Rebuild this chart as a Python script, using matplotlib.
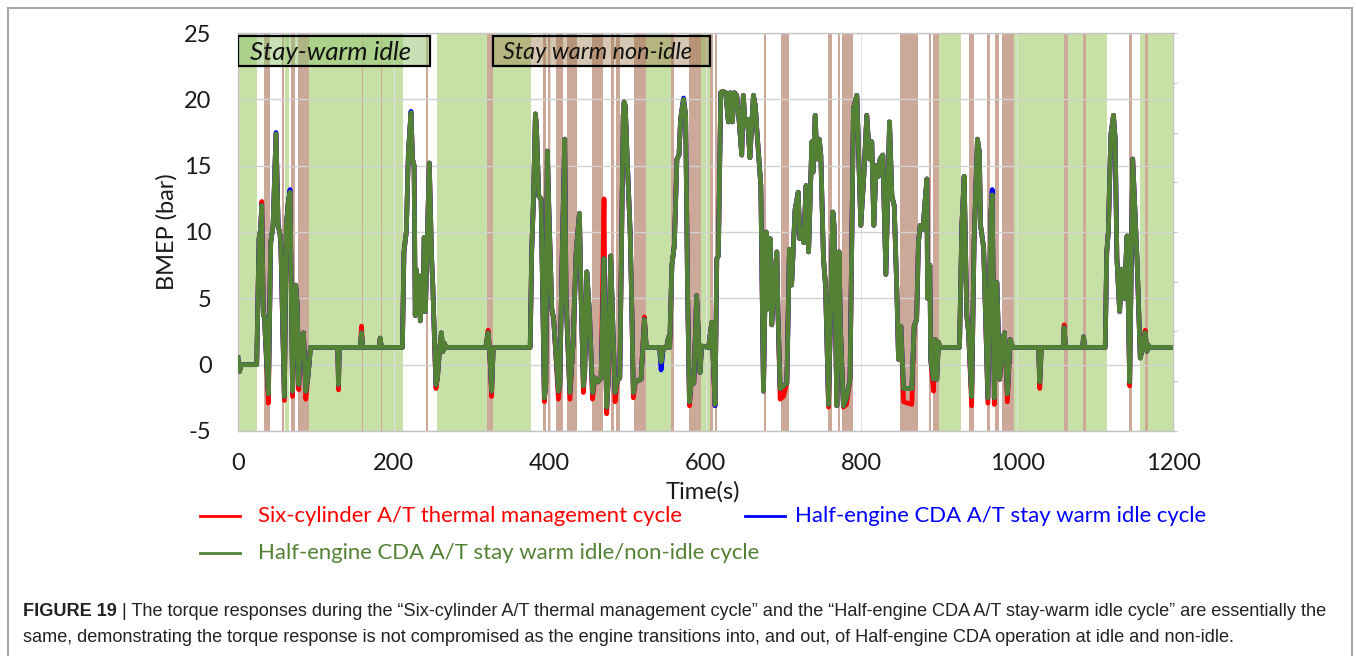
import matplotlib
matplotlib.use("Agg")
import matplotlib.pyplot as plt
from matplotlib.lines import Line2D
from matplotlib.patches import Rectangle

plt.rcParams['font.family'] = ['Lato', 'DejaVu Sans']
plt.rcParams['axes.unicode_minus'] = False

# ---------------- data ----------------
time_s = [
    0, 2, 4, 24, 27, 29, 30.5, 32.5, 34, 35, 39, 42, 45, 48.8, 51.5, 54, 55, 59.5, 62, 64.5,
    66.8, 70, 74, 76, 78, 80, 82, 84, 87, 90, 93,
    128, 129, 130, 157, 158.5, 160, 181.5, 182.5, 184, 211,
    213, 216, 218.7, 222, 224, 226, 227.5, 228.5, 230.5, 232.5, 234, 235.5, 237, 239, 240.5,
    245.5, 248.5, 250, 254, 256, 258.5, 261, 263, 265, 267,
    318, 321, 323, 325.5, 327.5, 329, 375,
    377, 379, 381.7, 383, 386, 389, 393.2, 395, 397, 399, 402.7, 405, 411.2, 413, 416, 419.3,
    421, 426, 430, 434, 438.2, 440, 443.3, 445, 447.6, 451, 455, 458, 462, 466, 469.8, 471,
    473.2, 475, 478.3, 480, 483.9, 487, 490, 494.4, 495.5, 497, 499, 503.3, 505, 507.4, 510,
    517.3, 521.6, 524,
    541, 543, 546, 550, 552.6, 554, 556.9, 560, 563.3, 566, 568, 571.8, 574.5, 577, 579.4,
    582, 585, 588.6, 590, 593, 595, 604, 608, 612.3, 614.5, 616.5, 619.6,
    622, 626, 629.4, 632, 634.5, 637, 640, 643, 646.5, 648.5, 651, 654, 657, 661.5, 664, 666,
    671, 674.4, 677.8, 680, 683, 685, 688, 691.5, 693, 695.8, 700, 704.4, 707.7,
    710.5, 715, 719, 721, 724, 726, 729.1, 732.3, 736.5, 738, 740.8, 743, 746, 748, 751.4,
    754, 757.9, 763.4, 765, 768.5, 771.5, 773, 777, 781, 785.5, 789.9, 794.2, 796, 799.3,
    803, 807, 810.5, 813.4, 816, 819, 822, 824, 827.6, 831.5, 836.2, 839.2, 842.2, 845.6,
    847.7, 850.7, 854.2, 864.8, 867.8, 871, 873.3, 875.5,
    879, 884.1, 885, 888, 889, 892.6, 894.7, 896.8, 899, 901, 926, 929, 932, 935.3, 937.5,
    941.6, 944.7, 949, 951.5, 953, 957, 962.4, 966.3, 968, 970.6, 974, 977.5, 981.3, 983.7,
    987.5, 991, 994.5,
    1027.4, 1029, 1031, 1059, 1060.3, 1062, 1084, 1085.2, 1086.5, 1113, 1115, 1117, 1120.2,
    1123.6, 1125.8, 1128, 1131.5, 1134.5, 1137.5, 1141, 1144.4, 1148.3, 1153.8, 1158, 1162,
    1164.3, 1166.5, 1168, 1170, 1200,
]

bmep_cda_idle_nonidle = [
    0.5, -0.5, 0.0, 0.0, 9.5, 10.2, 12.0, 3.7, 3.7, 2.2, -2.2, 9.2, 10.5, 17.4, 10.5, 9.8, 9.0, -2.4, 10.5, 12.2,
    13.0, -2.0, 6.0, 4.5, -1.5, 1.8, 2.2, 2.4, -2.0, -0.8, 1.3,
    1.3, -1.5, 1.3, 1.3, 2.4, 1.3, 1.3, 2.0, 1.3, 1.3,
    8.5, 10.0, 16.0, 19.0, 15.5, 15.0, 3.7, 7.2, 4.5, 6.7, 3.3, 5.8, 4.0, 9.6, 4.0,
    15.2, 8.0, 6.0, -1.5, -1.0, 1.0, 2.4, 1.0, 1.6, 1.3,
    1.3, 2.4, 1.0, -2.0, 1.2, 1.3, 1.3,
    8.7, 12.0, 18.9, 18.0, 12.7, 12.5, -2.5, -1.5, 16.1, 11.7, 4.2, 3.5, -2.0, -1.5, 8.0, 17.0,
    5.0, -2.1, 1.5, 8.5, 11.4, 6.0, -1.6, -0.5, 7.0, 4.0, -2.1, -1.0, -1.3, -1.0, 8.0, 3.0,
    -3.2, -1.5, 8.2, 5.0, -2.1, -1.2, -1.0, 18.8, 19.8, 19.5, 16.3, 10.0, 5.5, -2.1, -1.3,
    -1.1, 3.4, 1.3,
    1.3, 0.2, 1.3, 1.3, 2.1, 1.3, 7.5, 9.0, 15.5, 15.8, 18.5, 20.0, 18.8, 5.5, -2.8,
    -1.1, -1.4, 5.2, 3.4, -0.6, 1.4, 1.3, 3.2, -3.0, 8.0, 8.2, 20.5,
    20.6, 20.5, 18.3, 20.5, 18.3, 20.5, 20.3, 18.5, 15.8, 20.3, 18.0, 18.5, 15.6, 20.3, 19.5, 17.6,
    13.5, -2.0, 10.0, 4.2, 9.5, 3.0, 6.0, 8.5, 4.0, -1.8, -1.6, -1.4, 8.7,
    6.0, 11.7, 13.0, 9.5, 10.0, 9.2, 13.5, 8.5, 16.8, 14.5, 18.8, 15.5, 17.0, 15.8, 8.0,
    6.0, -3.0, 11.5, 10.5, -3.1, 8.5, 3.0, -3.1, -2.5, -1.1, 19.3, 20.3, 17.0, 10.5,
    14.0, 18.8, 15.5, 16.8, 10.5, 15.0, 14.2, 15.5, 15.8, 6.8, 18.3, 12.7, 12.0, 5.5,
    0.4, 2.9, -1.8, -1.8, 2.9, 3.4, 9.2, 10.5,
    10.2, 14.0, 5.0, 7.5, 0.4, -1.1, 1.9, -1.1, 1.7, 1.3, 1.3, 10.5, 14.2, 3.7, 2.5,
    -2.4, 9.2, 17.0, 16.0, 10.5, 8.8, -2.5, 11.5, 12.8, -2.5, 6.2, -1.1, 1.9, 2.4,
    -2.2, 1.9, 1.3,
    1.3, -1.3, 1.3, 1.3, 2.8, 1.3, 1.3, 2.1, 1.3, 1.3, 8.5, 10.0, 17.3,
    18.8, 17.0, 8.0, 4.0, 7.2, 5.0, 9.7, -1.3, 15.5, 8.0, 0.5, 1.6,
    2.4, 1.0, 1.5, 1.3, 1.3,
]

# points where the six-cylinder run departs from the CDA idle/non-idle run
six_cyl_points = {
    30.5: 12.3, 39: -2.9, 59.5: -2.7, 70: -2.4, 78: -1.9, 87: -2.6, 129: -1.9, 158.5: 2.9,
    254: -1.8, 321: 2.6, 325.5: -2.4, 393.2: -2.8, 411.2: -2.6, 426: -2.6, 443.3: -2.1,
    455: -2.6, 469.8: 12.5, 473.2: -3.7, 483.9: -2.8, 507.4: -2.5, 521.6: 3.6, 579.4: -3.1,
    612.3: -3.1, 695.8: -2.6, 700: -2.4, 757.9: -3.2, 777: -3.2, 781: -3.0, 854.2: -2.8,
    864.8: -3.0, 892.6: -2.0, 941.6: -3.1, 962.4: -2.9, 970.6: -3.0, 987.5: -2.8,
    1029: -1.8, 1060.3: 3.0, 1144.4: -1.6, 1164.3: 2.6,
}

# points where the half-engine stay-warm idle run departs
cda_idle_points = {
    48.8: 17.5, 66.8: 13.2, 222: 19.1, 543: -0.4, 571.8: 20.1, 612.3: -3.1, 968: 13.2,
}

bmep_six_cyl = [six_cyl_points.get(t, v) for t, v in zip(time_s, bmep_cda_idle_nonidle)]
bmep_cda_idle = [cda_idle_points.get(t, v) for t, v in zip(time_s, bmep_cda_idle_nonidle)]

idle_spans = [
    (0, 25), (60, 66), (91, 212), (255, 319), (327, 376), (523, 556), (594, 606),
    (900, 928), (996, 1115), (1158, 1200),
]
nonidle_spans = [
    (33, 41), (57, 59), (68, 73), (77, 91), (159, 161), (183, 185), (241, 244),
    (319, 327), (392, 395), (398, 402), (408, 417), (422, 435), (454, 469), (479, 483),
    (485, 490), (508, 523), (556, 560), (579, 594), (606, 610), (612, 615), (675, 678),
    (697, 707), (757, 762), (770, 773), (775, 789), (849, 873), (887, 890), (892, 900),
    (938, 945), (961, 965), (972, 977), (981, 996), (1060, 1065), (1085, 1088),
    (1143, 1148), (1164, 1168),
]

series_names = [
    "Six-cylinder A/T thermal management cycle",
    "Half-engine CDA A/T stay warm idle cycle",
    "Half-engine CDA A/T stay warm idle/non-idle cycle",
]
region_names = ["Stay-warm idle", "Stay warm non-idle"]
y_ticks = [-5, 0, 5, 10, 15, 20, 25]
x_ticks = [0, 200, 400, 600, 800, 1000, 1200]

caption_head = "FIGURE 19"
caption_lines = [
    " | The torque responses during the \u201cSix-cylinder A/T thermal management cycle\u201d and the "
    "\u201cHalf-engine CDA A/T stay-warm idle cycle\u201d are essentially the",
    "same, demonstrating the torque response is not compromised as the engine transitions into, "
    "and out, of Half-engine CDA operation at idle and non-idle.",
]

# ---------------- style ----------------
RED, BLUE, GREEN = "#ff0000", "#0000ff", "#548235"
IDLE_FILL, NONIDLE_FILL = "#c6e0a6", "#cba898"
W, H = 1356, 656

def fx(px):
    return px / W

def fy(py):
    return 1 - py / H

fig = plt.figure(figsize=(W / 100, H / 100), dpi=100)
ax = fig.add_axes([fx(238), fy(431), fx(1173) - fx(238), fy(33) - fy(431)])

for a, b in idle_spans:
    ax.axvspan(a, b, color=IDLE_FILL, lw=0, zorder=0)
for a, b in nonidle_spans:
    ax.axvspan(a, b, color=NONIDLE_FILL, lw=0, zorder=0.2)

ax.plot(time_s, bmep_six_cyl, color=RED, lw=3.4, zorder=3)
ax.plot(time_s, bmep_cda_idle, color=BLUE, lw=3.4, zorder=4)
ax.plot(time_s, bmep_cda_idle_nonidle, color=GREEN, lw=3.4, zorder=5)

ax.set_xlim(0, 1200)
ax.set_ylim(-5, 25)
ax.set_yticks(y_ticks)
ax.set_xticks(x_ticks)
ax.grid(axis="y", color="#d2d2d2", lw=1.0, zorder=1)
ax.grid(axis="x", color="#e2e2e2", lw=0.8, zorder=1)
for s in ax.spines.values():
    s.set_color("#c4c4c4")
    s.set_linewidth(1.0)
ax.tick_params(axis="both", length=0, labelsize=17, colors="#1a1a1a")
ax.tick_params(axis="y", pad=19)
ax.tick_params(axis="x", pad=16)
ax.set_ylabel("BMEP (bar)", fontsize=17, labelpad=5, color="#1a1a1a")

# secondary tick marks on the right-hand edge
ax2 = ax.twinx()
ax2.set_ylim(0, 8)
ax2.set_yticks(range(9))
ax2.tick_params(axis="y", length=3, color="#c4c4c4", labelright=False)
for s in ax2.spines.values():
    s.set_visible(False)

# region label boxes
ax.add_patch(Rectangle((0, 22.5), 246, 2.28, facecolor="#92c36f", alpha=0.5,
                       edgecolor="none", zorder=6))
ax.add_patch(Rectangle((0, 22.5), 246, 2.28, facecolor="none", edgecolor="black",
                       lw=1.6, zorder=7))
ax.text(15, 23.5, region_names[0], fontsize=18.5, style="italic", va="center", ha="left",
        color="#111111", zorder=8)
ax.add_patch(Rectangle((327.5, 22.5), 278.5, 2.28, facecolor="#9c7a4a", alpha=0.42,
                       edgecolor="none", zorder=6))
ax.add_patch(Rectangle((327.5, 22.5), 278.5, 2.28, facecolor="none", edgecolor="black",
                       lw=1.6, zorder=7))
ax.text(340, 23.55, region_names[1], fontsize=16.8, style="italic", va="center", ha="left",
        color="#111111", zorder=8)

fig.text(fx(703), fy(492), "Time(s)", fontsize=17, ha="center", va="center", color="#1a1a1a")

# legend rows
legend_rows = [
    (RED, 200, 516, 258, series_names[0]),
    (BLUE, 745, 516, 795, series_names[1]),
    (GREEN, 200, 553, 258, series_names[2]),
]
for col, lx, ly, tx, name in legend_rows:
    fig.add_artist(Line2D([fx(lx), fx(lx + 40)], [fy(ly), fy(ly)], color=col, lw=2.0,
                          transform=fig.transFigure))
    fig.text(fx(tx), fy(ly), name, fontsize=15.9, color=col, ha="left", va="center")

# frame around the figure
frame_kw = dict(color="#a8a8a8", lw=1.5, transform=fig.transFigure)
fig.add_artist(Line2D([fx(8), fx(8)], [fy(8), 0], **frame_kw))
fig.add_artist(Line2D([fx(1352), fx(1352)], [fy(8), 0], **frame_kw))
fig.add_artist(Line2D([fx(8), fx(1352)], [fy(8), fy(8)], **frame_kw))

# caption
cap_font = ["Liberation Sans", "DejaVu Sans"]
head = fig.text(fx(23), fy(612), caption_head, fontsize=13.05, fontweight="bold",
                family=cap_font, ha="left", va="center", color="#222222")
fig.canvas.draw()
bb = head.get_window_extent(renderer=fig.canvas.get_renderer())
fig.text(bb.x1 / W, fy(612), caption_lines[0], fontsize=13.05, family=cap_font,
         ha="left", va="center", color="#222222")
fig.text(fx(23), fy(638), caption_lines[1], fontsize=13.05, family=cap_font,
         ha="left", va="center", color="#222222")

fig.savefig("out.png", dpi=100)
